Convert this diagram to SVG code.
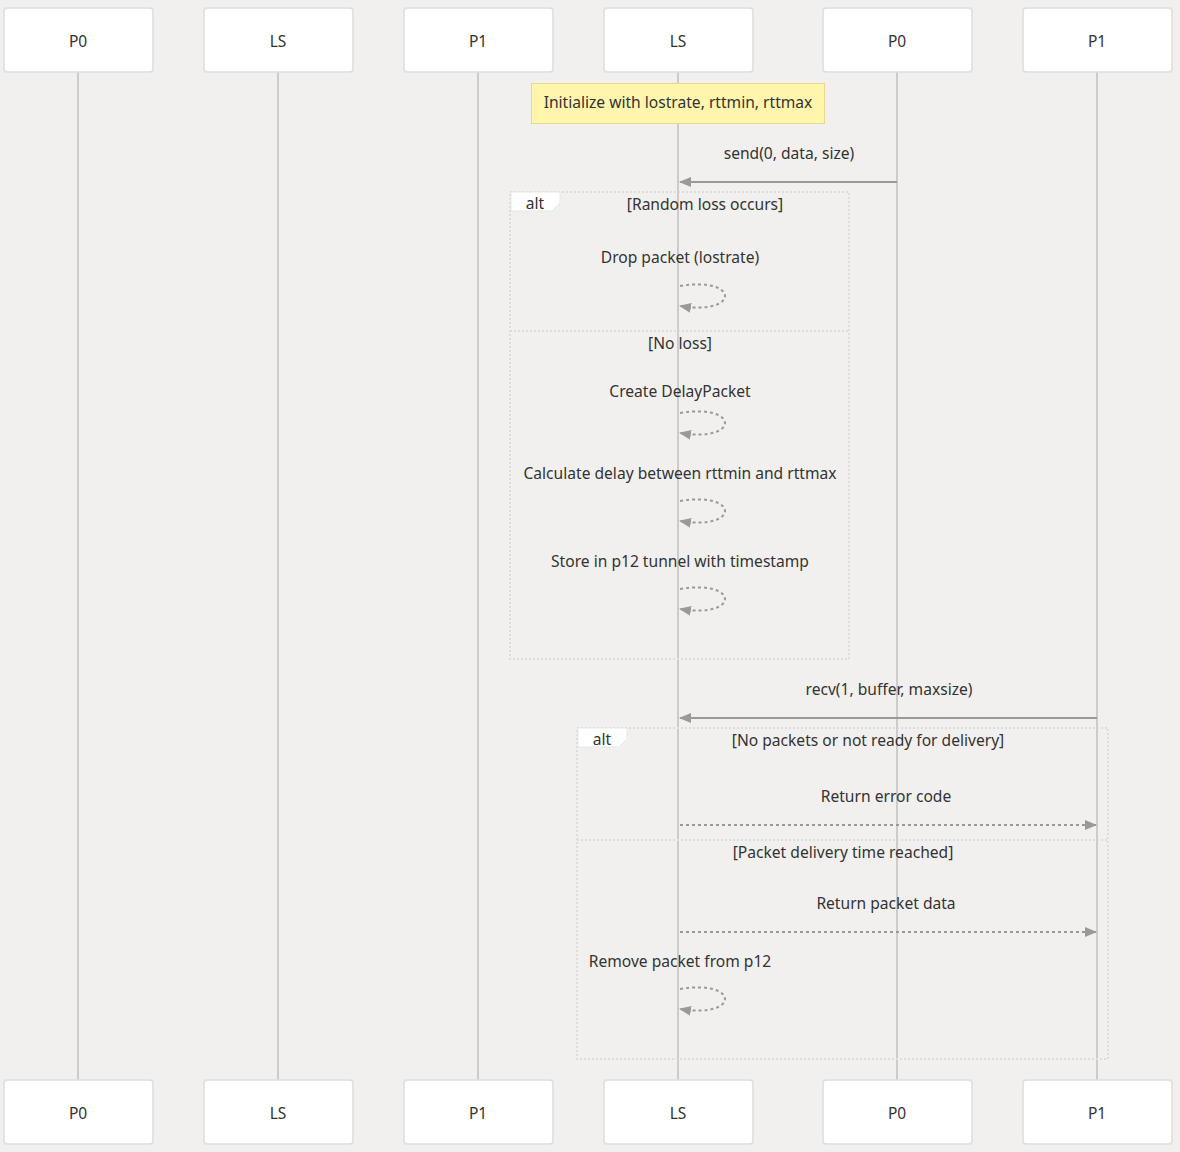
<svg xmlns="http://www.w3.org/2000/svg" width="1180" height="1152" viewBox="0 0 1180 1152">
<defs>
<style>
.bg{fill:#f1f0ef}
.actor rect{fill:#ffffff;stroke:#dddddd;stroke-width:1.5}
.actor text{font-family:"Noto Sans","Open Sans",sans-serif;font-size:15.5px;fill:#333;text-anchor:middle;dominant-baseline:central}
.life{stroke:#cccccc;stroke-width:2}
.msg{stroke:#999999;stroke-width:2;fill:none}
.dash{stroke:#999999;stroke-width:2;fill:none;stroke-dasharray:3,3}
.t{font-family:"Noto Sans","Open Sans",sans-serif;font-size:15.6px;fill:#333;text-anchor:middle;dominant-baseline:central}
.frame{fill:none;stroke:#dcdcdc;stroke-width:2;stroke-dasharray:2,2}
.sep{stroke:#dcdcdc;stroke-width:2;stroke-dasharray:2,2}
.lbl{fill:#ffffff;stroke:#e6e6e6;stroke-width:1}
.note{fill:#fff5ad;stroke:#e8d98a;stroke-width:1}
</style>
<marker id="arr" viewBox="0 0 12 12" refX="11" refY="6" markerWidth="12" markerHeight="12" markerUnits="userSpaceOnUse" orient="auto">
<path d="M0,1 L12,6 L0,11 z" fill="#999999"/>
</marker>
</defs>
<rect class="bg" x="0" y="0" width="1180" height="1152"/>
<g id="lifelines">
<line class="life" x1="78" y1="72" x2="78" y2="1080"/>
<line class="life" x1="278" y1="72" x2="278" y2="1080"/>
<line class="life" x1="478" y1="72" x2="478" y2="1080"/>
<line class="life" x1="678" y1="72" x2="678" y2="1080"/>
<line class="life" x1="897" y1="72" x2="897" y2="1080"/>
<line class="life" x1="1097" y1="72" x2="1097" y2="1080"/>
</g>
<g id="actor-P0-top" class="actor"><rect x="4" y="8" width="149" height="64" rx="3"/><text x="78" y="41">P0</text></g>
<g id="actor-LS-top" class="actor"><rect x="204" y="8" width="149" height="64" rx="3"/><text x="278" y="41">LS</text></g>
<g id="actor-P1-top" class="actor"><rect x="404" y="8" width="149" height="64" rx="3"/><text x="478" y="41">P1</text></g>
<g id="actor-LS2-top" class="actor"><rect x="604" y="8" width="149" height="64" rx="3"/><text x="678" y="41">LS</text></g>
<g id="actor-P02-top" class="actor"><rect x="823" y="8" width="149" height="64" rx="3"/><text x="897" y="41">P0</text></g>
<g id="actor-P12-top" class="actor"><rect x="1023" y="8" width="149" height="64" rx="3"/><text x="1097" y="41">P1</text></g>
<g id="actor-P0-bottom" class="actor"><rect x="4" y="1080" width="149" height="64" rx="3"/><text x="78" y="1113">P0</text></g>
<g id="actor-LS-bottom" class="actor"><rect x="204" y="1080" width="149" height="64" rx="3"/><text x="278" y="1113">LS</text></g>
<g id="actor-P1-bottom" class="actor"><rect x="404" y="1080" width="149" height="64" rx="3"/><text x="478" y="1113">P1</text></g>
<g id="actor-LS2-bottom" class="actor"><rect x="604" y="1080" width="149" height="64" rx="3"/><text x="678" y="1113">LS</text></g>
<g id="actor-P02-bottom" class="actor"><rect x="823" y="1080" width="149" height="64" rx="3"/><text x="897" y="1113">P0</text></g>
<g id="actor-P12-bottom" class="actor"><rect x="1023" y="1080" width="149" height="64" rx="3"/><text x="1097" y="1113">P1</text></g>
<g id="note-init"><rect class="note" x="531.5" y="83.5" width="293" height="40"/><text class="t" x="678" y="102">Initialize with lostrate, rttmin, rttmax</text></g>
<g id="alt-1">
<rect class="frame" x="510" y="192" width="339" height="467"/>
<path class="lbl" d="M511,192 H560 V203 L552,211 H511 Z"/>
<text class="t" x="535" y="203">alt</text>
<text class="t" x="705" y="204">[Random loss occurs]</text>
<line class="sep" x1="510" y1="331" x2="849" y2="331"/>
<text class="t" x="680" y="343">[No loss]</text>
</g>
<g id="alt-2">
<rect class="frame" x="577" y="728" width="531" height="331"/>
<path class="lbl" d="M578,728 H627 V739 L619,747 H578 Z"/>
<text class="t" x="602" y="739">alt</text>
<text class="t" x="868" y="740">[No packets or not ready for delivery]</text>
<line class="sep" x1="577" y1="840" x2="1108" y2="840"/>
<text class="t" x="843" y="852">[Packet delivery time reached]</text>
</g>
<g id="connectors">
<path class="msg" d="M897,182 H680" marker-end="url(#arr)"/>
<path class="dash" d="M680,286 C740,276 740,316 680,306" marker-end="url(#arr)"/>
<path class="dash" d="M680,413 C740,403 740,443 680,433" marker-end="url(#arr)"/>
<path class="dash" d="M680,501 C740,491 740,531 680,521" marker-end="url(#arr)"/>
<path class="dash" d="M680,589 C740,579 740,619 680,609" marker-end="url(#arr)"/>
<path class="msg" d="M1097,718 H680" marker-end="url(#arr)"/>
<path class="dash" d="M680,825 H1096" marker-end="url(#arr)"/>
<path class="dash" d="M680,932 H1096" marker-end="url(#arr)"/>
<path class="dash" d="M680,989 C740,979 740,1019 680,1009" marker-end="url(#arr)"/>
</g>
<g id="labels">
<text class="t" x="789" y="153">send(0, data, size)</text>
<text class="t" x="680" y="257">Drop packet (lostrate)</text>
<text class="t" x="680" y="391">Create DelayPacket</text>
<text class="t" x="680" y="473">Calculate delay between rttmin and rttmax</text>
<text class="t" x="680" y="561">Store in p12 tunnel with timestamp</text>
<text class="t" x="889" y="689">recv(1, buffer, maxsize)</text>
<text class="t" x="886" y="796">Return error code</text>
<text class="t" x="886" y="903">Return packet data</text>
<text class="t" x="680" y="961">Remove packet from p12</text>
</g>
</svg>
